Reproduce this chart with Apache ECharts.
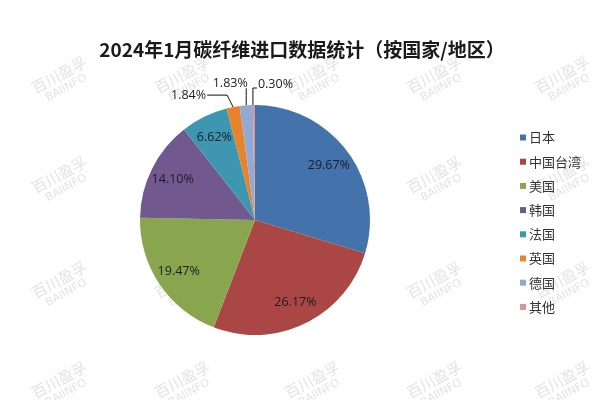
<!DOCTYPE html>
<html>
<head>
<meta charset="utf-8">
<script src="https://cdn.jsdelivr.net/npm/echarts@6/dist/echarts.min.js"></script>
<style>html,body{margin:0;padding:0;background:#fff}#c{width:600px;height:400px}</style>
</head>
<body>
<div id="c"></div>
<script>
var titleText = '2024年1月碳纤维进口数据统计（按国家/地区）';
var categories = ['日本', '中国台湾', '美国', '韩国', '法国', '英国', '德国', '其他'];
var shares = [29.67, 26.17, 19.47, 14.10, 6.62, 1.84, 1.83, 0.30];
var colors = ['#4472AA', '#AA4643', '#89A54E', '#71588F', '#3D97B0', '#E6842E', '#93A9D4', '#D89594'];
var outsideLabels = ['英国', '德国', '其他'];

var CX = 255, CY = 220, R = 115;
var FONT = '"Noto Sans CJK SC", "Noto Sans", sans-serif';

var data = categories.map(function (name, i) {
  var outside = outsideLabels.indexOf(name) >= 0;
  return {
    name: name,
    value: shares[i],
    itemStyle: { color: colors[i] },
    label: { position: outside ? 'outside' : 'inside' },
    labelLine: { show: outside }
  };
});

// watermark tiles
var wmCols = [62, 185, 315, 437, 565];
var wmRows = [80, 180, 285, 385];
var graphics = [];
wmRows.forEach(function (y) {
  wmCols.forEach(function (x) {
    graphics.push({
      type: 'group', x: x, y: y, rotation: 0.5, z: 100, silent: true,
      children: [
        { type: 'text', style: { text: '百川盈孚', x: 0, y: -6, align: 'center', verticalAlign: 'middle', fill: 'rgba(160,160,160,0.3)', font: '15px ' + FONT } },
        { type: 'text', style: { text: 'BAIINFO', x: 0, y: 9, align: 'center', verticalAlign: 'middle', fill: 'rgba(160,160,160,0.3)', font: '11px "DejaVu Sans", sans-serif' } }
      ]
    });
  });
});

var chart = echarts.init(document.getElementById('c'));
chart.setOption({
  animation: false,
  backgroundColor: '#fff',
  title: {
    text: titleText, left: 297, top: 35, textAlign: 'center',
    textStyle: { fontFamily: FONT, fontSize: 19, fontWeight: 'bold', color: '#1a1a1a' }
  },
  legend: {
    orient: 'vertical', left: 515, top: 126,
    icon: 'rect', itemWidth: 6, itemHeight: 6, itemGap: 11.2,
    data: categories,
    textStyle: { fontFamily: FONT, fontSize: 13, color: '#333', padding: [0, 0, 0, -2] }
  },
  graphic: graphics,
  series: [{
    type: 'pie',
    center: [CX, CY], radius: [0, R],
    startAngle: 90, clockwise: true,
    avoidLabelOverlap: false,
    data: data,
    itemStyle: { borderWidth: 0 },
    label: {
      show: true,
      formatter: function (p) { return p.value.toFixed(2) + '%'; },
      fontFamily: '"Open Sans", "DejaVu Sans", sans-serif', fontSize: 12.5, color: '#1c1c28'
    },
    labelLine: { lineStyle: { color: '#111', width: 1 }, length: 10, length2: 10 },
    labelLayout: function (p) {
      var name = categories[p.dataIndex];
      var lr = p.labelRect;
      if (outsideLabels.indexOf(name) < 0) {
        var mx = lr.x + lr.width / 2, my = lr.y + lr.height / 2;
        var k = 1.52;
        return { x: CX + (mx - CX) * k, y: CY + (my - CY) * k, align: 'center', verticalAlign: 'middle' };
      }
      var e = p.labelLinePoints ? p.labelLinePoints[0] : [CX, CY - R];
      if (name === '英国') {
        return { x: e[0] - 27, y: e[1] - 12, align: 'right', verticalAlign: 'middle',
          labelLinePoints: [[e[0], e[1]], [e[0] - 6, e[1] - 12], [e[0] - 26, e[1] - 12]] };
      }
      if (name === '德国') {
        return { x: e[0] - 16, y: e[1] - 22, align: 'center', verticalAlign: 'middle',
          labelLinePoints: [[e[0], e[1]], [e[0], e[1] - 10], [e[0], e[1] - 17]] };
      }
      return { x: e[0] + 4, y: e[1] - 21, align: 'left', verticalAlign: 'middle',
        labelLinePoints: [[e[0] - 1, e[1]], [e[0] - 1, e[1] - 17], [e[0] + 3, e[1] - 17]] };
    }
  }]
});
</script>
</body>
</html>
